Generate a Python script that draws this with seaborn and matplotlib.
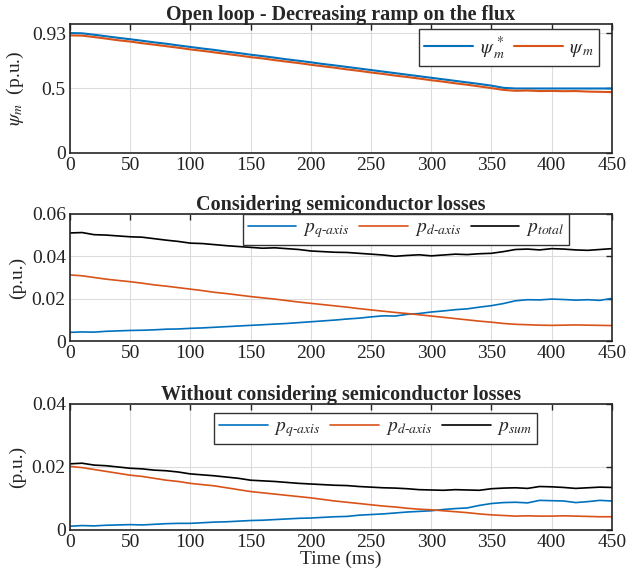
import numpy as np
import pandas as pd
import matplotlib
matplotlib.use('Agg')
import matplotlib.pyplot as plt
import seaborn as sns

# time axis (ms), sampled every 10 ms
time_ms = np.arange(0, 451, 10)

# Panel 1 - flux reference and measured flux (p.u.)
psi_ref = [0.930, 0.928, 0.917, 0.905, 0.893, 0.882, 0.870, 0.858, 0.847, 0.834,
           0.822, 0.810, 0.799, 0.786, 0.775, 0.762, 0.751, 0.739, 0.726, 0.715,
           0.703, 0.690, 0.679, 0.667, 0.655, 0.643, 0.631, 0.619, 0.607, 0.595,
           0.583, 0.571, 0.559, 0.547, 0.535, 0.522, 0.505, 0.500, 0.500, 0.500,
           0.500, 0.500, 0.500, 0.500, 0.500, 0.500]
psi_meas = [0.912, 0.910, 0.899, 0.887, 0.874, 0.864, 0.851, 0.840, 0.828, 0.816,
            0.803, 0.792, 0.780, 0.768, 0.756, 0.743, 0.733, 0.720, 0.708, 0.697,
            0.684, 0.672, 0.661, 0.648, 0.637, 0.624, 0.613, 0.600, 0.589, 0.577,
            0.564, 0.553, 0.540, 0.529, 0.516, 0.503, 0.489, 0.482, 0.484, 0.480,
            0.481, 0.479, 0.480, 0.476, 0.474, 0.472]

# Panel 2 - considering semiconductor losses (p.u.)
pq_semi = [0.0041, 0.0043, 0.0042, 0.0046, 0.0048, 0.0050, 0.0051, 0.0053, 0.0056, 0.0057,
           0.0060, 0.0062, 0.0065, 0.0068, 0.0071, 0.0074, 0.0077, 0.0080, 0.0083, 0.0087,
           0.0091, 0.0095, 0.0099, 0.0104, 0.0108, 0.0114, 0.0119, 0.0118, 0.0126, 0.0130,
           0.0137, 0.0142, 0.0148, 0.0152, 0.0160, 0.0167, 0.0177, 0.0190, 0.0195, 0.0194,
           0.0198, 0.0196, 0.0193, 0.0195, 0.0192, 0.0201]
pd_semi = [0.0312, 0.0308, 0.0300, 0.0292, 0.0286, 0.0280, 0.0273, 0.0265, 0.0259, 0.0252,
           0.0245, 0.0238, 0.0230, 0.0224, 0.0217, 0.0210, 0.0204, 0.0198, 0.0191, 0.0184,
           0.0178, 0.0172, 0.0166, 0.0160, 0.0153, 0.0147, 0.0141, 0.0135, 0.0130, 0.0124,
           0.0118, 0.0112, 0.0106, 0.0100, 0.0094, 0.0089, 0.0083, 0.0079, 0.0077, 0.0075,
           0.0074, 0.0075, 0.0076, 0.0075, 0.0074, 0.0073]
ptotal_semi = [0.0510, 0.0512, 0.0502, 0.0500, 0.0496, 0.0492, 0.0490, 0.0483, 0.0476, 0.0470,
               0.0462, 0.0460, 0.0455, 0.0450, 0.0446, 0.0442, 0.0438, 0.0440, 0.0436, 0.0432,
               0.0425, 0.0422, 0.0419, 0.0418, 0.0414, 0.0410, 0.0406, 0.0400, 0.0404, 0.0407,
               0.0402, 0.0406, 0.0410, 0.0408, 0.0412, 0.0414, 0.0422, 0.0432, 0.0434, 0.0430,
               0.0436, 0.0434, 0.0430, 0.0428, 0.0432, 0.0436]

# Panel 3 - without semiconductor losses (p.u.)
pq_nosemi = [0.0012, 0.0014, 0.0013, 0.0015, 0.0016, 0.0017, 0.0016, 0.0018, 0.0020, 0.0021,
             0.0021, 0.0023, 0.0025, 0.0026, 0.0028, 0.0030, 0.0031, 0.0033, 0.0035, 0.0037,
             0.0038, 0.0040, 0.0042, 0.0043, 0.0047, 0.0049, 0.0051, 0.0054, 0.0057, 0.0059,
             0.0061, 0.0065, 0.0068, 0.0070, 0.0078, 0.0084, 0.0087, 0.0088, 0.0086, 0.0094,
             0.0093, 0.0092, 0.0087, 0.0090, 0.0094, 0.0092]
pd_nosemi = [0.0202, 0.0198, 0.0192, 0.0186, 0.0180, 0.0174, 0.0170, 0.0164, 0.0158, 0.0154,
             0.0148, 0.0144, 0.0140, 0.0134, 0.0128, 0.0122, 0.0118, 0.0114, 0.0110, 0.0106,
             0.0102, 0.0097, 0.0092, 0.0088, 0.0084, 0.0080, 0.0076, 0.0073, 0.0069, 0.0066,
             0.0064, 0.0061, 0.0058, 0.0055, 0.0051, 0.0048, 0.0046, 0.0044, 0.0045, 0.0044,
             0.0044, 0.0045, 0.0044, 0.0043, 0.0042, 0.0042]
psum_nosemi = [0.0210, 0.0212, 0.0206, 0.0204, 0.0200, 0.0196, 0.0194, 0.0190, 0.0188, 0.0184,
               0.0178, 0.0175, 0.0172, 0.0168, 0.0164, 0.0158, 0.0156, 0.0154, 0.0151, 0.0148,
               0.0146, 0.0144, 0.0142, 0.0141, 0.0138, 0.0136, 0.0134, 0.0133, 0.0131, 0.0128,
               0.0127, 0.0126, 0.0128, 0.0127, 0.0126, 0.0131, 0.0133, 0.0134, 0.0132, 0.0138,
               0.0137, 0.0135, 0.0132, 0.0134, 0.0136, 0.0135]

xticks = [0, 50, 100, 150, 200, 250, 300, 350, 400, 450]
blue = '#0072BD'
orange = '#D95319'

sns.set_theme(style='whitegrid')
plt.rcParams['font.family'] = ['Liberation Serif', 'DejaVu Serif']
plt.rcParams['mathtext.fontset'] = 'stix'

fig = plt.figure(figsize=(6.36, 5.86), dpi=100)
ax1 = fig.add_axes([0.110, 0.739, 0.852, 0.220])
ax2 = fig.add_axes([0.110, 0.418, 0.852, 0.217])
ax3 = fig.add_axes([0.110, 0.0956, 0.852, 0.215])

leg_kw = dict(fancybox=False, edgecolor='#333333', framealpha=1, fontsize=14,
              handlelength=2.5, handletextpad=0.35, columnspacing=0.5,
              borderpad=0.25, borderaxespad=0)
title_kw = dict(fontsize=14.5, fontweight='bold', pad=3)

# panel 1
sns.lineplot(x=time_ms, y=psi_ref, color=blue, lw=1.5, label=r'$\psi^{\,*}_{\,m}$', ax=ax1)
sns.lineplot(x=time_ms, y=psi_meas, color=orange, lw=1.5, label=r'$\psi_{\,m}$', ax=ax1)
ax1.set_ylim(0, 1)
ax1.set_yticks([0, 0.5, 0.93])
ax1.set_yticklabels(['0', '0.5', '0.93'])
ax1.set_ylabel(r'$\psi_m$  (p.u.)', fontsize=14)
ax1.set_title('Open loop - Decreasing ramp on the flux', **title_kw)
ax1.legend(ncol=2, loc='upper right', bbox_to_anchor=(0.976, 0.96), **leg_kw)

# panel 2
sns.lineplot(x=time_ms, y=pq_semi, color=blue, lw=1.2, label=r'$p_{q\text{-}axis}$', ax=ax2)
sns.lineplot(x=time_ms, y=pd_semi, color=orange, lw=1.2, label=r'$p_{d\text{-}axis}$', ax=ax2)
sns.lineplot(x=time_ms, y=ptotal_semi, color='black', lw=1.2, label=r'$p_{total}$', ax=ax2)
ax2.set_ylim(0, 0.06)
ax2.set_yticks([0, 0.02, 0.04, 0.06])
ax2.set_yticklabels(['0', '0.02', '0.04', '0.06'])
ax2.set_ylabel('(p.u.)', fontsize=14)
ax2.set_title('Considering semiconductor losses', **title_kw)
ax2.legend(ncol=3, loc='upper left', bbox_to_anchor=(0.319, 1.0), **leg_kw)

# panel 3
sns.lineplot(x=time_ms, y=pq_nosemi, color=blue, lw=1.2, label=r'$p_{q\text{-}axis}$', ax=ax3)
sns.lineplot(x=time_ms, y=pd_nosemi, color=orange, lw=1.2, label=r'$p_{d\text{-}axis}$', ax=ax3)
sns.lineplot(x=time_ms, y=psum_nosemi, color='black', lw=1.2, label=r'$p_{sum}$', ax=ax3)
ax3.set_ylim(0, 0.04)
ax3.set_yticks([0, 0.02, 0.04])
ax3.set_yticklabels(['0', '0.02', '0.04'])
ax3.set_ylabel('(p.u.)', fontsize=14)
ax3.set_xlabel('Time (ms)', fontsize=14, labelpad=0)
ax3.set_title('Without considering semiconductor losses', **title_kw)
ax3.legend(ncol=3, loc='upper left', bbox_to_anchor=(0.266, 0.929), **leg_kw)

for ax in (ax1, ax2, ax3):
    ax.set_xlim(0, 450)
    ax.set_xticks(xticks)
    ax.grid(True, color='#dcdcdc', lw=0.8)
    ax.tick_params(direction='in', length=4, width=1, top=True, right=True,
                   labelsize=14, colors='#222222', pad=3)
    for sp in ax.spines.values():
        sp.set_color('#262626')
        sp.set_linewidth(1.2)
    ax.set_facecolor('white')

fig.savefig('out.png', dpi=100)
